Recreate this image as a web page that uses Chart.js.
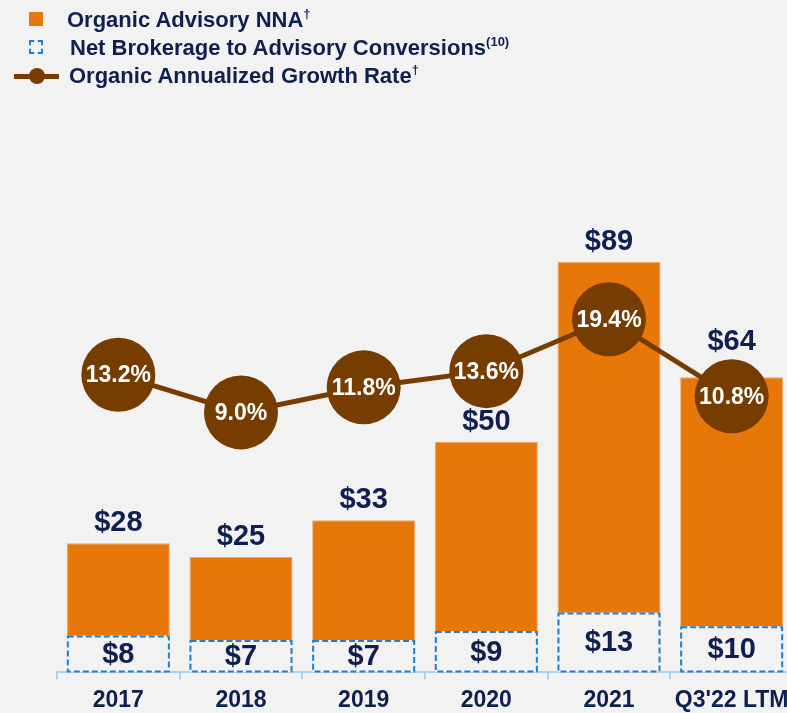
<!DOCTYPE html>
<html>
<head>
<meta charset="utf-8">
<script src="https://cdn.jsdelivr.net/npm/chart.js@4"></script>
<style>
  html, body { margin: 0; padding: 0; background: #f2f2f2; overflow: hidden; }
  body { width: 787px; height: 713px; position: relative; font-family: "Liberation Sans", Arial, sans-serif; }
  #wrap { position: absolute; left: 0; top: 0; width: 800px; height: 721px; }
  .legend { position: absolute; left: 0; top: 0; color: #0e1f50; font-weight: bold; font-size: 22px; }
  .legend .row { position: absolute; white-space: nowrap; line-height: 28px; }
  .legend sup { font-size: 13px; vertical-align: 9px; line-height: 0; }
  .mk { position: absolute; }
</style>
</head>
<body>
<div id="wrap"><canvas id="chart" width="800" height="721"></canvas></div>
<div class="legend">
  <div class="mk" style="left:29px;top:12px;width:14px;height:14px;background:#e8770a;"></div>
  <div class="row" style="left:67px;top:6px;">Organic Advisory NNA<sup>†</sup></div>
  <div class="mk" style="left:29px;top:40px;width:10px;height:10px;border:2px dashed #1b7fd3;"></div>
  <div class="row" style="left:70px;top:34px;">Net Brokerage to Advisory Conversions<sup>(10)</sup></div>
  <div class="mk" style="left:14px;top:74px;width:45px;height:5px;background:#763c00;"></div>
  <div class="mk" style="left:29px;top:68px;width:16px;height:16px;border-radius:50%;background:#763c00;"></div>
  <div class="row" style="left:69px;top:62px;">Organic Annualized Growth Rate<sup>†</sup></div>
</div>
<script>
// ===== Data =====
const categories = ["2017", "2018", "2019", "2020", "2021", "Q3'22 LTM"];
const organicNNA = [28, 25, 33, 50, 89, 64];
const conversions = [8, 7, 7, 9, 13, 10];
const growthRate = [13.2, 9.0, 11.8, 13.6, 19.4, 10.8];

const NAVY = "#0e1f50";
const ORANGE = "#e8770a";
const BROWN = "#763c00";
const BLUE = "#1b7fd3";
const BG = "#f2f2f2";
const FONT = "Liberation Sans, Arial, sans-serif";
const POINT_R = 37;

// ===== Labels + dashed boxes =====
const labelPlugin = {
  id: "labels",
  afterDatasetsDraw(chart) {
    const ctx = chart.ctx;
    const lineMeta = chart.getDatasetMeta(0);
    const orgMeta = chart.getDatasetMeta(1);
    const convMeta = chart.getDatasetMeta(2);
    ctx.save();

    // dashed boxes for conversions
    convMeta.data.forEach((bar) => {
      const p = bar.getProps(["x", "y", "base", "width"], true);
      ctx.setLineDash([6, 3]);
      ctx.lineWidth = 2;
      ctx.strokeStyle = BLUE;
      ctx.strokeRect(p.x - p.width / 2 + 1, p.y + 1, p.width - 2, p.base - p.y - 2);
    });
    ctx.setLineDash([]);

    ctx.textAlign = "center";
    ctx.textBaseline = "middle";
    ctx.fillStyle = NAVY;
    ctx.font = "bold 29px " + FONT;
    convMeta.data.forEach((bar, i) => {
      const p = bar.getProps(["x", "y", "base"], true);
      ctx.fillText("$" + conversions[i], p.x, (p.y + p.base) / 2 + 1);
    });
    orgMeta.data.forEach((bar, i) => {
      const p = bar.getProps(["x", "y"], true);
      let y = p.y - 20;
      const pt = lineMeta.data[i];
      if (Math.abs(y - pt.y) < POINT_R + 10) y = pt.y - POINT_R - 17;
      ctx.fillText("$" + organicNNA[i], p.x, y);
    });

    ctx.fillStyle = "#ffffff";
    ctx.font = "bold 23px " + FONT;
    lineMeta.data.forEach((pt, i) => {
      ctx.fillText(growthRate[i].toFixed(1) + "%", pt.x, pt.y + 1);
    });
    ctx.restore();
  },
};

// ===== Chart =====
new Chart(document.getElementById("chart"), {
  data: {
    labels: categories,
    datasets: [
      {
        type: "line",
        label: "Organic Annualized Growth Rate",
        data: growthRate,
        yAxisID: "y2",
        order: 0,
        borderColor: BROWN,
        borderWidth: 5,
        pointRadius: POINT_R,
        pointBackgroundColor: BROWN,
        pointBorderWidth: 0,
        tension: 0,
        clip: false,
      },
      {
        type: "bar",
        label: "Organic Advisory NNA",
        data: organicNNA,
        order: 2,
        grouped: false,
        backgroundColor: ORANGE,
        borderColor: "#f0a868",
        borderWidth: 1,
        categoryPercentage: 1,
        barPercentage: 0.84,
      },
      {
        type: "bar",
        label: "Net Brokerage to Advisory Conversions",
        data: conversions,
        order: 1,
        grouped: false,
        backgroundColor: BG,
        borderWidth: 0,
        categoryPercentage: 1,
        barPercentage: 0.84,
      },
    ],
  },
  options: {
    responsive: false,
    animation: false,
    layout: { autoPadding: false, padding: { left: 57, right: 7, top: 165, bottom: 0 } },
    plugins: {
      legend: { display: false },
      tooltip: { enabled: false },
    },
    scales: {
      x: {
        offset: true,
        afterFit(scale) {
          scale.paddingLeft = 0;
          scale.paddingRight = 0;
        },
        grid: { offset: true, drawOnChartArea: false, tickLength: 7, color: "#a9d1f5", lineWidth: 2 },
        border: { color: "#a9d1f5", width: 2 },
        ticks: {
          color: NAVY, padding: 7, maxRotation: 0, minRotation: 0, autoSkip: false,
          font: { family: FONT, size: 23, weight: "bold" },
        },
      },
      y: { display: false, min: 0, max: 110 },
      y2: { display: false, min: -20, max: 36.6 },
    },
  },
  plugins: [labelPlugin],
});
</script>
</body>
</html>
